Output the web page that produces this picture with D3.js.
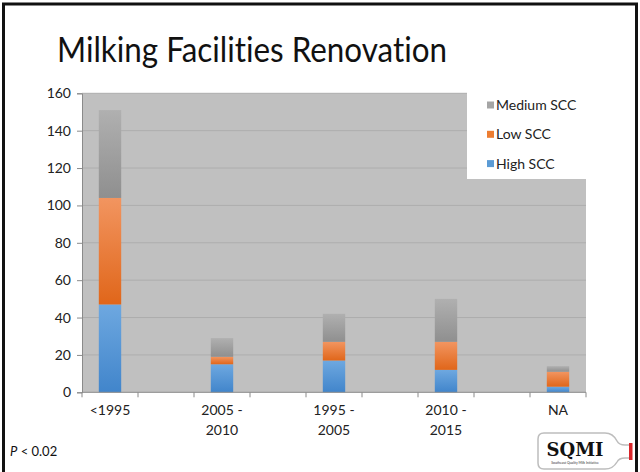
<!DOCTYPE html>
<html><head><meta charset="utf-8">
<script src="https://cdn.jsdelivr.net/npm/d3@7/dist/d3.min.js"></script>
<style>
html,body{margin:0;padding:0;background:#fff;}
svg{display:block;font-family:Lato,"Open Sans",sans-serif;font-variant-ligatures:none;}
</style></head>
<body>
<svg id="chart" width="640" height="472"></svg>
<script>
// ---- data ----
const categories = ["<1995", "2005 - 2010", "1995 - 2005", "2010 - 2015", "NA"];
const tickLabels = [["<1995"], ["2005 -", "2010"], ["1995 -", "2005"], ["2010 -", "2015"], ["NA"]];
const seriesNames = ["High SCC", "Low SCC", "Medium SCC"];
const highSCC   = [47, 15, 17, 12, 3];
const lowSCC    = [57, 4, 10, 15, 8];
const mediumSCC = [47, 10, 15, 23, 3];
const yTicks = [0, 20, 40, 60, 80, 100, 120, 140, 160];
const legendOrder = ["Medium SCC", "Low SCC", "High SCC"];

// slots: each category followed by an empty spacer slot (as in the original chart)
const slots = [];
categories.forEach((c, i) => { slots.push(c); if (i < categories.length - 1) slots.push("__gap" + i); });

const svg = d3.select("#chart");
const plot = {left: 82, right: 586, top: 93.3, bottom: 392.3};

// gradients
const gradDefs = {
  "High SCC":   ["#6ea8e0", "#4185cb"],
  "Low SCC":    ["#f29560", "#e0661a"],
  "Medium SCC": ["#b0b0b0", "#8f8f8f"]
};
const legendColors = {"High SCC": "#5b9bd5", "Low SCC": "#ed7d31", "Medium SCC": "#a5a5a5"};
const defs = svg.append("defs");
seriesNames.forEach((s, i) => {
  const g = defs.append("linearGradient").attr("id", "g" + i)
    .attr("x1", 0).attr("y1", 0).attr("x2", 0).attr("y2", 1);
  g.append("stop").attr("offset", "0%").attr("stop-color", gradDefs[s][0]);
  g.append("stop").attr("offset", "100%").attr("stop-color", gradDefs[s][1]);
});

// slide border
svg.append("rect").attr("x", 3.5).attr("y", 4).attr("width", 633).attr("height", 480)
  .attr("fill", "none").attr("stroke", "#111").attr("stroke-width", 3);

// title
svg.append("text").attr("x", 57).attr("y", 62)
  .attr("font-size", 34).attr("fill", "#111")
  .attr("textLength", 390).attr("lengthAdjust", "spacingAndGlyphs")
  .text("Milking Facilities Renovation");

// scales
const x = d3.scaleBand().domain(slots).range([plot.left, plot.right]).paddingInner(0).paddingOuter(0);
const y = d3.scaleLinear().domain([0, 160]).range([plot.bottom, plot.top]);

// plot background
svg.append("rect").attr("x", plot.left).attr("y", plot.top)
  .attr("width", plot.right - plot.left).attr("height", plot.bottom - plot.top)
  .attr("fill", "#c0c0c0");

// gridlines
svg.append("g").selectAll("line").data(yTicks.filter(d => d > 0)).join("line")
  .attr("x1", plot.left).attr("x2", plot.right)
  .attr("y1", d => y(d)).attr("y2", d => y(d))
  .attr("stroke", "#adadad").attr("stroke-width", 1);

// stacked bars
const rows = categories.map((c, i) => ({cat: c, "High SCC": highSCC[i], "Low SCC": lowSCC[i], "Medium SCC": mediumSCC[i]}));
const stack = d3.stack().keys(seriesNames)(rows);
const barW = x.bandwidth() * 0.4;
stack.forEach((layer, si) => {
  svg.append("g").selectAll("rect").data(layer).join("rect")
    .attr("x", d => x(d.data.cat) + (x.bandwidth() - barW) / 2)
    .attr("width", barW)
    .attr("y", d => y(d[1]))
    .attr("height", d => y(d[0]) - y(d[1]))
    .attr("fill", "url(#g" + si + ")");
});

// y axis
const yAxis = svg.append("g").attr("transform", `translate(${plot.left},0)`)
  .call(d3.axisLeft(y).tickValues(yTicks).tickSize(5).tickPadding(6));
yAxis.select(".domain").attr("stroke", "#8a8a8a");
yAxis.selectAll(".tick line").attr("stroke", "#8a8a8a");
yAxis.selectAll(".tick text").attr("font-size", 14).attr("fill", "#222").attr("font-family", "Lato,sans-serif");

// x axis
const xAxis = svg.append("g");
xAxis.append("line").attr("x1", plot.left).attr("x2", plot.right)
  .attr("y1", plot.bottom).attr("y2", plot.bottom).attr("stroke", "#8a8a8a");
const bounds = slots.map(s => x(s)).concat([x(slots[slots.length - 1]) + x.bandwidth()]);
xAxis.selectAll("line.t").data(bounds).join("line").attr("class", "t")
  .attr("x1", d => d).attr("x2", d => d)
  .attr("y1", plot.bottom).attr("y2", plot.bottom + 5).attr("stroke", "#8a8a8a");
categories.forEach((c, i) => {
  const t = xAxis.append("text").attr("text-anchor", "middle")
    .attr("font-size", 14).attr("fill", "#222");
  tickLabels[i].forEach((ln, j) => {
    t.append("tspan").attr("x", x(c) + x.bandwidth() / 2).attr("y", 415 + j * 19.5).text(ln);
  });
});

// legend
const lg = svg.append("g");
lg.append("rect").attr("x", 467).attr("y", 86).attr("width", 119).attr("height", 93).attr("fill", "#fff");
legendOrder.forEach((s, i) => {
  const cy = 105 + i * 29.3;
  lg.append("rect").attr("x", 487).attr("y", cy - 3.5).attr("width", 7).attr("height", 7).attr("fill", legendColors[s]);
  lg.append("text").attr("x", 496).attr("y", cy + 5).attr("font-size", 14).attr("fill", "#222").text(s);
});

// p-value note
const p = svg.append("text").attr("x", 10).attr("y", 456).attr("font-size", 13).attr("fill", "#111");
p.append("tspan").attr("font-style", "italic").text("P");
p.append("tspan").text(" < 0.02");

// SQMI logo
const logo = svg.append("g").attr("transform", "translate(537,431)");
logo.append("path")
  .attr("d", "M7,2 L68,2 Q76,2 80,10 Q82,14 88,14 L93,14 L93,27 L88,27 Q82,27 80,31 Q76,38 68,38 L7,38 Q1,38 1,32 L1,8 Q1,2 7,2 Z")
  .attr("fill", "#fff").attr("stroke", "#bdbdbd").attr("stroke-width", 1.5);
logo.append("rect").attr("x", 92).attr("y", 12).attr("width", 3.5).attr("height", 17).attr("fill", "#d9262b");
logo.append("text").attr("x", 38).attr("y", 25).attr("text-anchor", "middle")
  .attr("font-family", "'DejaVu Serif','Liberation Serif',serif").attr("font-weight", "bold")
  .attr("font-size", 18).attr("fill", "#111").text("SQMI");
logo.append("text").attr("x", 38).attr("y", 33).attr("text-anchor", "middle")
  .attr("font-size", 3.4).attr("fill", "#333").text("Southeast Quality Milk Initiative");
</script>
</body></html>
